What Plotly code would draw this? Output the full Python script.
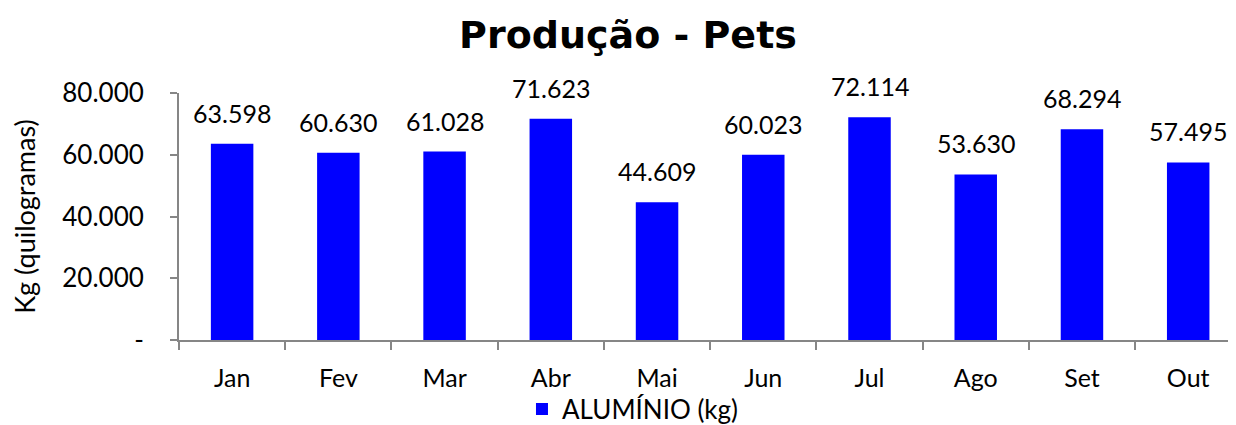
import plotly.graph_objects as go

months = ["Jan", "Fev", "Mar", "Abr", "Mai", "Jun", "Jul", "Ago", "Set", "Out"]
aluminio = [63598, 60630, 61028, 71623, 44609, 60023, 72114, 53630, 68294, 57495]
series_name = "ALUMÍNIO (kg)"
y_tickvals = [0, 20000, 40000, 60000, 80000]
y_ticktext = ["-", "20.000", "40.000", "60.000", "80.000"]

FONT = "Lato, Carlito, Calibri, sans-serif"
FS = 25

fig = go.Figure()
fig.add_trace(go.Bar(
    x=months, y=aluminio, name=series_name,
    marker=dict(color="#0000FF", line=dict(width=0)),
    width=0.4,
    cliponaxis=False,
))

for m, v in zip(months, aluminio):
    fig.add_annotation(
        x=m, y=v, xref="x", yref="y",
        text=f"{v:,}".replace(",", "."),
        showarrow=False, yanchor="bottom", xanchor="center", yshift=14,
        font=dict(family=FONT, size=FS, color="#000"),
    )

# page body has an 8px margin; margins below compensate for it
fig.update_layout(
    width=1236, height=425,
    margin=dict(l=171, r=8, t=85, b=93, autoexpand=False),
    paper_bgcolor="white", plot_bgcolor="white",
    separators=",.",
    title=dict(text="<b>Produção - Pets</b>", x=620 / 1236, xanchor="center", xref="container",
               y=1 - 27 / 425, yref="container", yanchor="middle",
               font=dict(family="DejaVu Sans, Verdana, sans-serif", size=38, color="#000")),
    showlegend=True,
    legend=dict(orientation="h", x=0.4295, xanchor="center", y=-0.28, yanchor="middle",
                bgcolor="rgba(0,0,0,0)",
                font=dict(family=FONT, size=26, color="#000"), itemwidth=30),
    font=dict(family=FONT, size=FS, color="#000"),
)
fig.update_xaxes(
    range=[-0.5, 9.45], showline=True, linecolor="#868686", linewidth=2,
    ticks="outside", ticklen=8, tickcolor="#868686", tickwidth=2, tickson="boundaries",
    showgrid=False, ticklabelstandoff=15, automargin=False,
    tickfont=dict(family=FONT, size=FS, color="#000"),
)
fig.update_yaxes(
    range=[0, 80000], tickvals=y_tickvals, ticktext=y_ticktext,
    showline=True, linecolor="#868686", linewidth=2,
    ticks="outside", ticklen=7, tickcolor="#868686", tickwidth=2,
    showgrid=False, zeroline=False, ticklabelstandoff=21, automargin=False,
    tickfont=dict(family=FONT, size=26, color="#000"),
    title=dict(text="Kg (quilogramas)", font=dict(family=FONT, size=27, color="#000"), standoff=24),
)

fig.write_html("out.html")
